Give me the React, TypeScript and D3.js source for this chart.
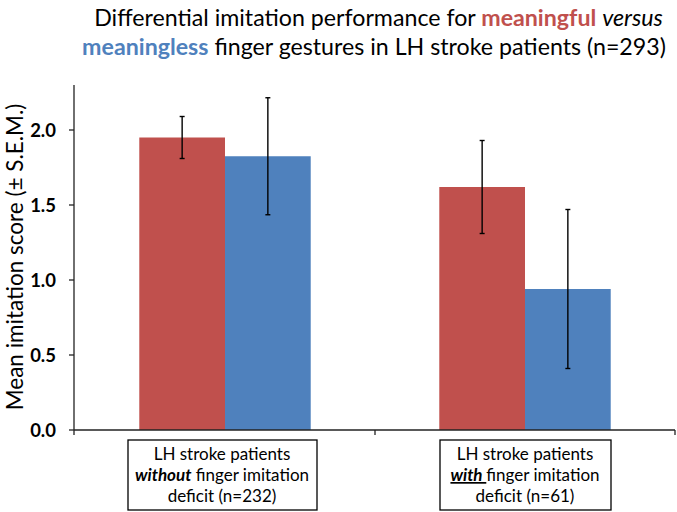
import React from "react";
import * as d3 from "d3";

const categories = ["without", "with"];
const series = ["meaningful", "meaningless"];
const meaningfulValues = [1.95, 1.62];
const meaningfulErrors = [0.14, 0.31];
const meaninglessValues = [1.825, 0.94];
const meaninglessErrors = [0.39, 0.53];
const yTicks = [0, 0.5, 1.0, 1.5, 2.0];
const yMax = 2.3;

const W = 677;
const H = 512;
const FONT = "Lato, 'Open Sans', sans-serif";
const RED = "#C0504D";
const BLUE = "#4F81BD";

export default function App() {
  const y = d3.scaleLinear().domain([0, yMax]).range([430, 85]);
  const x = d3.scaleBand<string>().domain(categories).range([75, 675]).paddingInner(0).paddingOuter(0);
  const barW = x.bandwidth() / 3.5;
  const xs = d3
    .scaleBand<string>()
    .domain(series)
    .range([(x.bandwidth() - 2 * barW) / 2, (x.bandwidth() + 2 * barW) / 2]);
  const colors = d3.scaleOrdinal<string, string>().domain(series).range([RED, BLUE]);
  const values: Record<string, number[]> = { meaningful: meaningfulValues, meaningless: meaninglessValues };
  const errors: Record<string, number[]> = { meaningful: meaningfulErrors, meaningless: meaninglessErrors };
  const axisX0 = 74;
  const axisX1 = 675;
  const boundaries = [x(categories[0])!, ...categories.map((c) => x(c)! + x.bandwidth())];
  const boxes = [
    { left: 128, right: 317 },
    { left: 440, right: 611 },
  ];
  const c0 = x(categories[0])! + x.bandwidth() / 2 - 3;
  const c1 = x(categories[1])! + x.bandwidth() / 2;

  return (
    <svg width={W} height={H} style={{ position: "absolute", left: 0, top: 0 }} fontFamily={FONT}>
      <rect width={W} height={H} fill="#fff" />
      {/* title */}
      <text x={378.5} y={26} textAnchor="middle" fontSize={23.2} fill="#000">
        Differential imitation performance for{" "}
        <tspan fill={RED} fontWeight="bold">meaningful</tspan> <tspan fontStyle="italic">versus</tspan>
      </text>
      <text x={374} y={55} textAnchor="middle" fontSize={23.2} fill="#000">
        <tspan fill={BLUE} fontWeight="bold">meaningless</tspan> finger gestures in LH stroke patients (n=293)
      </text>
      {/* y label */}
      <text transform={`translate(23, 257) rotate(-90)`} textAnchor="middle" fontSize={22.5} fill="#000">
        Mean imitation score (± S.E.M.)
      </text>
      {/* bars */}
      {series.map((s) =>
        categories.map((c, i) => (
          <rect
            key={s + c}
            x={x(c)! + xs(s)!}
            y={y(values[s][i])}
            width={xs.bandwidth()}
            height={y(0) - y(values[s][i])}
            fill={colors(s)}
          />
        ))
      )}
      {/* error bars */}
      {series.map((s) =>
        categories.map((c, i) => {
          const cx = x(c)! + xs(s)! + xs.bandwidth() / 2;
          const hi = y(values[s][i] + errors[s][i]);
          const lo = y(values[s][i] - errors[s][i]);
          return (
            <g key={"e" + s + c} stroke="#000" strokeWidth={1.4}>
              <line x1={cx} x2={cx} y1={hi} y2={lo} />
              <line x1={cx - 2.5} x2={cx + 2.5} y1={hi} y2={hi} />
              <line x1={cx - 2.5} x2={cx + 2.5} y1={lo} y2={lo} />
            </g>
          );
        })
      )}
      {/* axes */}
      <g stroke="#222" strokeWidth={1.3}>
        <line x1={axisX0} x2={axisX0} y1={y(yMax)} y2={y(0) + 5} />
        <line x1={axisX0} x2={axisX1} y1={y(0)} y2={y(0)} />
        {yTicks.map((t) => (
          <line key={"yt" + t} x1={axisX0 - 5} x2={axisX0} y1={y(t)} y2={y(t)} />
        ))}
        {boundaries.slice(1).map((b, i) => (
          <line key={"xt" + i} x1={b} x2={b} y1={y(0)} y2={y(0) + 5} />
        ))}
      </g>
      {yTicks.map((t) => (
        <text
          key={"yl" + t}
          x={56}
          y={y(t)}
          dy="0.36em"
          textAnchor="end"
          fontSize={18.5}
          fontWeight="bold"
          fill="#000"
        >
          {t.toFixed(1)}
        </text>
      ))}
      {/* category boxes */}
      {boxes.map((b, i) => (
        <rect
          key={"box" + i}
          x={b.left}
          y={440}
          width={b.right - b.left}
          height={70}
          fill="#fff"
          stroke="#000"
          strokeWidth={1.3}
        />
      ))}
      <g fontSize={17} textAnchor="middle" fill="#000">
        <text x={c0} y={460}>LH stroke patients</text>
        <text x={c0} y={481}>
          <tspan fontWeight="bold" fontStyle="italic">without</tspan> finger imitation
        </text>
        <text x={c0} y={502}>deficit (n=232)</text>
        <text x={c1} y={460}>LH stroke patients</text>
        <text x={c1} y={481}>
          <tspan fontWeight="bold" fontStyle="italic" textDecoration="underline">with&#160;</tspan>finger imitation
        </text>
        <text x={c1} y={502}>deficit (n=61)</text>
      </g>
    </svg>
  );
}
